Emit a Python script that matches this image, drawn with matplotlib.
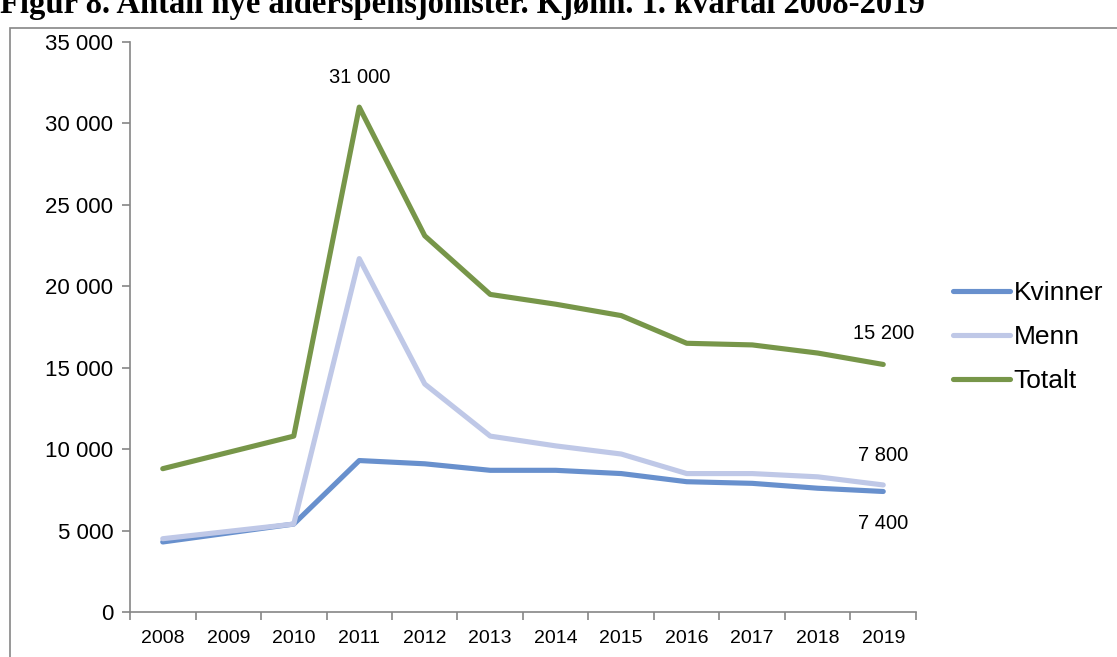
import matplotlib
matplotlib.use("Agg")
import matplotlib.pyplot as plt
from matplotlib.patches import Rectangle

years = ["2008", "2009", "2010", "2011", "2012", "2013", "2014", "2015", "2016", "2017", "2018", "2019"]
kvinner = [4300, 4850, 5400, 9300, 9100, 8700, 8700, 8500, 8000, 7900, 7600, 7400]
menn = [4500, 4950, 5400, 21700, 14000, 10800, 10200, 9700, 8500, 8500, 8300, 7800]
totalt = [8800, 9800, 10800, 31000, 23100, 19500, 18900, 18200, 16500, 16400, 15900, 15200]

W, H = 1117, 657
fig = plt.figure(figsize=(W / 100, H / 100), dpi=100)
plt.rcParams['font.family'] = ['Liberation Sans', 'DejaVu Sans']

# frame around chart
fig.patches.append(Rectangle((10 / W, -0.1), 1.2, (H - 28) / H + 0.1, transform=fig.transFigure,
                             fill=False, edgecolor='#868686', linewidth=1.2))

# title (cut at top, as in the source)
fig.text(0.0, 1 - 13 / H, "Figur 8. Antall nye alderspensjonister. Kjønn. 1. kvartal 2008-2019",
         family=['Liberation Serif', 'DejaVu Serif'], fontweight='bold', fontsize=23.5,
         ha='left', va='baseline')

left, right, bottom, top = 130, 916, 612, 42
ax = fig.add_axes([left / W, 1 - bottom / H, (right - left) / W, (bottom - top) / H])

x = list(range(len(years)))
lw = 3.7
ax.plot(x, kvinner, color='#6890CD', lw=lw, label='Kvinner', solid_capstyle='round')
ax.plot(x, menn, color='#BFC8E7', lw=lw, label='Menn', solid_capstyle='round')
ax.plot(x, totalt, color='#779649', lw=lw, label='Totalt', solid_capstyle='round')

ax.set_xlim(-0.5, len(years) - 0.5)
ax.set_ylim(0, 35000)
yt = list(range(0, 35001, 5000))
ax.set_yticks(yt)
ax.set_yticklabels([f"{v:,}".replace(",", " ") for v in yt], fontsize=16)
ax.set_xticks(x)
ax.set_xticklabels(years, fontsize=14)
ax.set_xticks([i - 0.5 for i in range(len(years) + 1)], minor=True)
ax.tick_params(axis='x', which='major', length=0, pad=13)
ax.tick_params(axis='x', which='minor', length=6, width=1.2, color='#868686', direction='out')
ax.tick_params(axis='y', length=6, width=1.2, color='#868686', direction='out', pad=6)
for s in ['top', 'right']:
    ax.spines[s].set_visible(False)
for s in ['left', 'bottom']:
    ax.spines[s].set_color('#868686')
    ax.spines[s].set_linewidth(1.2)

ann_kw = dict(fontsize=14.5, ha='center', va='center', textcoords='offset pixels')
ax.annotate("31 000", (3, totalt[3]), xytext=(0, 30), **ann_kw)
ax.annotate("15 200", (11, totalt[11]), xytext=(0, 31), **ann_kw)
ax.annotate("7 800", (11, menn[11]), xytext=(0, 29), **ann_kw)
ax.annotate("7 400", (11, kvinner[11]), xytext=(0, -32), **ann_kw)

leg = ax.legend(loc='center left', bbox_to_anchor=(953 / W, 1 - 337 / H), bbox_transform=fig.transFigure,
                frameon=False, fontsize=19, handlelength=2.15, handletextpad=0.15, labelspacing=0.76,
                borderaxespad=0, borderpad=0)

fig.savefig("out.png", dpi=100)
